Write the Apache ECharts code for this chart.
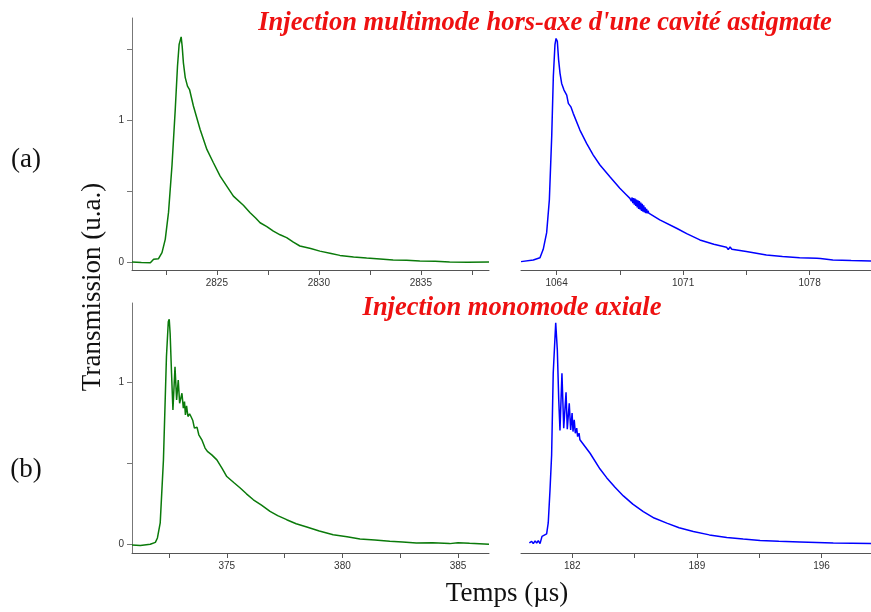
<!DOCTYPE html>
<html><head><meta charset="utf-8">
<script src="https://cdn.jsdelivr.net/npm/echarts@6/dist/echarts.min.js"></script>
<style>html,body{margin:0;padding:0;background:#fff}#c{width:871px;height:612px}</style>
</head><body><div id="c"></div>
<script>
// ---- Data ----
const titleTop = "Injection multimode hors-axe d'une cavité astigmate";
const titleBottom = "Injection monomode axiale";
const yAxisName = "Transmission (u.a.)";
const xAxisName = "Temps (µs)";
const panelLabels = ["(a)", "(b)"];

// (a) left, green
const aLeftTime = [2820.84,2821.3,2821.74,2821.9,2822.14,2822.31,2822.47,2822.63,2822.8,2822.96,2823.07,2823.15,2823.25,2823.3,2823.36,2823.45,2823.56,2823.66,2823.85,2824.18,2824.51,2824.83,2825.16,2825.5,2825.81,2826.3,2826.63,2826.9,2827.12,2827.45,2827.77,2828.1,2828.42,2828.75,2829.07,2829.6,2830.05,2830.6,2831.03,2831.7,2832.34,2833.0,2833.64,2834.3,2834.95,2835.7,2836.41,2837.3,2838.34];
const aLeftTrans = [0,-0.003,-0.005,0.02,0.024,0.066,0.16,0.35,0.68,1.075,1.38,1.533,1.587,1.52,1.404,1.30,1.24,1.216,1.10,0.934,0.794,0.70,0.606,0.532,0.465,0.40,0.348,0.31,0.277,0.25,0.218,0.192,0.172,0.14,0.113,0.095,0.077,0.06,0.047,0.036,0.028,0.022,0.014,0.012,0.007,0.005,0,-0.002,0];
const aLeftTicks = [2822.5,2825,2827.5,2830,2832.5,2835,2837.5];
const aLeftLabels = [2825,2830,2835];

// (a) right, blue
const aRightTime = [1062.03,1062.71,1063.08,1063.26,1063.45,1063.6,1063.73,1063.82,1063.91,1063.97,1064.04,1064.11,1064.19,1064.28,1064.41,1064.56,1064.65,1064.79,1064.92,1065.29,1065.66,1066.03,1066.4,1066.95,1067.5,1067.87,1068.06,
  1068.1,1068.14,1068.18,1068.22,1068.26,1068.3,1068.34,1068.38,1068.42,1068.46,1068.5,1068.54,1068.58,1068.62,1068.66,1068.7,1068.74,1068.78,1068.82,1068.86,1068.9,1068.94,1068.98,1069.02,1069.06,1069.1,
  1069.16,1069.71,1070.64,1071.2,1071.93,1072.7,1073.4,1073.5,1073.6,1073.7,1074.5,1075.61,1076.5,1077.45,1078.4,1078.5,1078.6,1079.29,1080.3,1081.4];
const aRightTrans = [0.003,0.014,0.03,0.09,0.207,0.44,0.887,1.31,1.533,1.576,1.556,1.427,1.33,1.259,1.212,1.177,1.118,1.094,1.048,0.93,0.837,0.754,0.684,0.601,0.52,0.473,0.449,
  0.455,0.43,0.455,0.415,0.45,0.405,0.448,0.395,0.44,0.385,0.435,0.375,0.43,0.37,0.42,0.36,0.41,0.355,0.40,0.35,0.385,0.345,0.375,0.343,0.362,0.345,
  0.344,0.297,0.238,0.2,0.156,0.125,0.105,0.088,0.106,0.09,0.075,0.05,0.04,0.031,0.027,0.017,0.025,0.015,0.011,0.008];
const aRightTicks = [1064,1067.5,1071,1074.5,1078];
const aRightLabels = [1064,1071,1078];

// (b) left, green
const bLeftTime = [370.9,371.26,371.69,371.91,372.0,372.12,372.26,372.39,372.47,372.51,372.55,372.61,372.67,372.76,372.83,372.9,372.96,373.06,373.12,373.17,373.21,373.26,373.32,373.39,373.45,373.53,373.6,373.71,373.79,373.92,374.06,374.16,374.35,374.57,374.79,375.0,375.3,375.58,375.85,376.15,376.5,376.87,377.2,377.59,378.0,378.46,379.0,379.6,380.2,380.76,381.4,382.05,382.6,383.2,383.9,384.64,385.0,385.5,386.34];
const bLeftTrans = [-0.006,-0.01,-0.002,0.01,0.037,0.13,0.52,1.158,1.374,1.389,1.30,1.056,0.829,1.096,0.89,1.014,0.87,0.932,0.84,0.88,0.798,0.854,0.788,0.804,0.788,0.763,0.716,0.722,0.675,0.644,0.593,0.572,0.551,0.52,0.469,0.417,0.38,0.346,0.31,0.273,0.24,0.201,0.175,0.15,0.125,0.105,0.08,0.057,0.045,0.031,0.025,0.016,0.012,0.006,0.008,0.002,0.008,0.004,-0.002];
const bLeftTicks = [372.5,375,377.5,380,382.5,385];
const bLeftLabels = [375,380,385];

// (b) right, blue
const bRightTime = [179.59,179.72,179.81,179.91,180.0,180.09,180.19,180.3,180.41,180.56,180.65,180.75,180.84,180.93,181.07,181.16,181.24,181.31,181.42,181.52,181.65,181.72,181.83,181.91,181.99,182.04,182.11,182.17,182.25,182.3,182.38,182.43,182.53,183.0,183.56,183.93,184.4,184.87,185.4,185.99,186.6,187.31,188.0,188.8,189.7,190.68,191.6,192.55,193.6,194.79,196.66,198.78];
const bRightTrans = [0.006,0.016,0.002,0.019,0.006,0.02,0.002,0.047,0.056,0.062,0.13,0.335,0.55,1.056,1.368,1.2,0.891,0.701,1.055,0.716,0.938,0.71,0.87,0.705,0.809,0.695,0.767,0.685,0.716,0.664,0.685,0.644,0.633,0.561,0.463,0.41,0.35,0.297,0.246,0.2,0.16,0.129,0.1,0.077,0.056,0.04,0.03,0.022,0.016,0.012,0.006,0.003];
const bRightTicks = [182,185.5,189,192.5,196];
const bRightLabels = [182,189,196];

const yTicksTop = [0,0.5,1,1.5];
const yTicksBottom = [0,0.5,1];
const yLabels = [0,1];

// ---- Chart ----
const zip = (xs, ys) => xs.map((x, i) => [x, ys[i]]);
const green = '#0a7a0a', blue = '#0000ff';
const axisColor = '#555';
const labelStyle = { fontFamily: 'Liberation Sans, Arial, sans-serif', fontSize: 10, color: '#333', formatter: v => String(v) };

function xAx(gi, min, max, ticks, labels) {
  return {
    type: 'value', gridIndex: gi, min: min, max: max,
    axisLine: { show: true, onZero: false, lineStyle: { color: axisColor, width: 1 } },
    axisTick: { show: true, length: 5, customValues: ticks, lineStyle: { color: axisColor } },
    axisLabel: Object.assign({ customValues: labels, margin: 8 }, labelStyle),
    splitLine: { show: false }
  };
}
function yAx(gi, min, max, ticks, showAxis) {
  return {
    type: 'value', gridIndex: gi, min: min, max: max, show: showAxis,
    axisLine: { show: true, onZero: false, lineStyle: { color: '#777', width: 1 } },
    axisTick: { show: true, length: 5, customValues: ticks, lineStyle: { color: '#777' } },
    axisLabel: Object.assign({ customValues: yLabels, margin: 8 }, labelStyle),
    splitLine: { show: false }
  };
}
function ser(xi, data, color) {
  return { type: 'line', xAxisIndex: xi, yAxisIndex: xi, data: data, showSymbol: false, symbol: 'none',
    lineStyle: { color: color, width: 1.5 }, itemStyle: { color: color }, animation: false };
}

const chart = echarts.init(document.getElementById('c'), null, { renderer: 'canvas' });
const serifFont = 'Liberation Serif, Times New Roman, serif';
chart.setOption({
  backgroundColor: '#fff',
  animation: false,
  grid: [
    { left: 132, top: 18, width: 357, height: 252, containLabel: false },
    { left: 521, top: 18, width: 350, height: 252, containLabel: false },
    { left: 132, top: 303, width: 357, height: 250, containLabel: false },
    { left: 521, top: 303, width: 350, height: 250, containLabel: false }
  ],
  xAxis: [
    xAx(0, 2820.84, 2838.34, aLeftTicks, aLeftLabels),
    xAx(1, 1062.03, 1081.4, aRightTicks, aRightLabels),
    xAx(2, 370.9, 386.34, bLeftTicks, bLeftLabels),
    xAx(3, 179.12, 198.78, bRightTicks, bRightLabels)
  ],
  yAxis: [
    yAx(0, -0.056, 1.72, yTicksTop, true),
    yAx(1, -0.056, 1.72, yTicksTop, false),
    yAx(2, -0.056, 1.49, yTicksBottom, true),
    yAx(3, -0.056, 1.49, yTicksBottom, false)
  ],
  series: [
    ser(0, zip(aLeftTime, aLeftTrans), green),
    ser(1, zip(aRightTime, aRightTrans), blue),
    ser(2, zip(bLeftTime, bLeftTrans), green),
    ser(3, zip(bRightTime, bRightTrans), blue)
  ],
  graphic: [
    { type: 'text', style: { text: titleTop, x: 545, y: 23, align: 'center', verticalAlign: 'middle',
      font: 'italic bold 26.5px ' + serifFont, fill: '#ee1111' } },
    { type: 'text', style: { text: titleBottom, x: 512, y: 308, align: 'center', verticalAlign: 'middle',
      font: 'italic bold 26.5px ' + serifFont, fill: '#ee1111' } },
    { type: 'text', style: { text: xAxisName, x: 507, y: 594, align: 'center', verticalAlign: 'middle',
      font: '27px ' + serifFont, fill: '#111' } },
    { type: 'text', x: 93, y: 287, rotation: Math.PI / 2, style: { text: yAxisName, x: 0, y: 0, align: 'center', verticalAlign: 'middle',
      font: '27px ' + serifFont, fill: '#111' } },
    { type: 'text', style: { text: panelLabels[0], x: 26, y: 160, align: 'center', verticalAlign: 'middle',
      font: '27px ' + serifFont, fill: '#111' } },
    { type: 'text', style: { text: panelLabels[1], x: 26, y: 470, align: 'center', verticalAlign: 'middle',
      font: '27px ' + serifFont, fill: '#111' } }
  ]
});
</script></body></html>
